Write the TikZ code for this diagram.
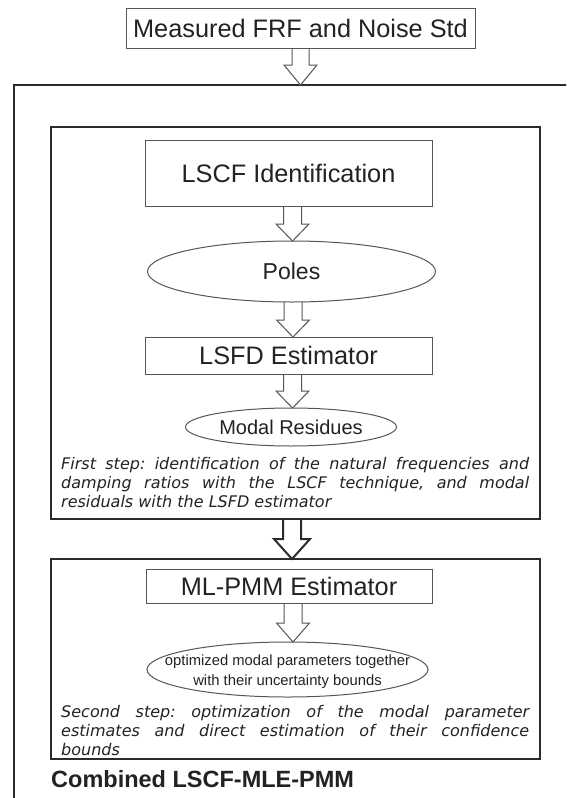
\documentclass[tikz,border=0pt]{standalone}
\usepackage{fontspec}
\setmainfont{Liberation Sans}
\newfontfamily\notefont{DejaVu Sans}
\usetikzlibrary{shapes.geometric,calc}

\definecolor{inkdark}{HTML}{2B2B2B}
\definecolor{inkmid}{HTML}{555555}
\definecolor{txt}{HTML}{222222}

% hollow block arrow: style, from, to, shaft half-width, head half-width, head length
\newcommand{\blockarrow}[6]{%
  \draw[#1] let \p1=#2, \p2=#3 in
    (\x1-#4,\y1) -- (\x1-#4,\y2+#6) -- (\x1-#5,\y2+#6) -- (\x1,\y2)
    -- (\x1+#5,\y2+#6) -- (\x1+#4,\y2+#6) -- (\x1+#4,\y1);}

\begin{document}
\frenchspacing
\begin{tikzpicture}[x=1pt,y=1pt,
  every node/.style={text=txt},
  plainbox/.style={draw=inkmid, line width=1pt, rectangle, inner sep=0pt, outer sep=0pt,
    font=\fontsize{25.3}{30}\selectfont},
  ovalbox/.style={draw=inkmid, line width=1pt, ellipse, inner sep=0pt, outer sep=0pt},
  stagebox/.style={draw=inkdark, line width=2.8pt, rectangle, inner sep=0pt, outer sep=0pt},
  framebox/.style={draw=inkdark, line width=2.2pt, rectangle, inner sep=0pt, outer sep=0pt},
  thinarrow/.style={draw=inkmid, line width=1pt, line join=miter},
  thickarrow/.style={draw=inkdark, line width=2pt, line join=miter},
  notetext/.style={anchor=north west, inner sep=0pt, text width=468pt, align=justify,
    font=\notefont\itshape\fontsize{16}{19}\selectfont},
]
\useasboundingbox (0,0) rectangle (566,-798);
\begin{scope}
\clip (0,0) rectangle (566,-798);

% input
\node[plainbox, minimum width=349pt, minimum height=40pt] (src) at (300.5,-28)
  {Measured FRF and Noise Std};

% overall frame (runs past the page edges)
\node[framebox, anchor=north west, minimum width=700pt, minimum height=800pt] (frame)
  at (14,-85) {};

% first stage
\node[stagebox, minimum width=489pt, minimum height=392pt] (stage1) at (295.5,-323) {};
\node[plainbox, minimum width=287pt, minimum height=66pt] (lscf) at (288.5,-173)
  {LSCF Identification};
\node[ovalbox, minimum width=288pt, minimum height=61pt,
  font=\fontsize{23}{27}\selectfont] (poles) at (291.5,-271.5) {Poles};
\node[plainbox, minimum width=287pt, minimum height=37pt] (lsfd) at (288.5,-355.5)
  {LSFD Estimator};
\node[ovalbox, minimum width=211pt, minimum height=38pt,
  font=\fontsize{20}{24}\selectfont] (resid) at (291,-427) {Modal Residues};
\node[notetext] (note1) at (61,-457)
  {\hyphenpenalty=10000\tolerance=10000\frenchspacing
   First step: identification of the natural frequencies and\linebreak
   damping ratios with the LSCF technique, and modal\linebreak
   residuals with the LSFD estimator};

% second stage
\node[stagebox, minimum width=489pt, minimum height=200pt] (stage2) at (295.5,-659) {};
\node[plainbox, minimum width=286pt, minimum height=34pt] (mlpmm) at (289,-586)
  {ML-PMM Estimator};
\node[ovalbox, minimum width=281pt, minimum height=55pt,
  label={[font=\fontsize{14.8}{20}\selectfont, align=center, inner sep=0pt, yshift=-2pt]center:optimized modal parameters together\\with their uncertainty bounds}]
  (optim) at (287.5,-669.5) {};
\node[notetext] (note2) at (61,-705)
  {\hyphenpenalty=10000\tolerance=10000\frenchspacing
   Second step: optimization of the modal parameter\linebreak
   estimates and direct estimation of their confidence\linebreak
   bounds};

\node[anchor=base west, inner sep=0pt, font=\bfseries\fontsize{23.5}{28}\selectfont]
  (title) at (51,-787) {Combined LSCF-MLE-PMM};

% flow arrows
\blockarrow{thinarrow}{(src.south)}{(src.south |- frame.north)}{8.5pt}{16.5pt}{20pt}
\blockarrow{thinarrow}{([xshift=4pt]lscf.south)}{(poles.north)}{9pt}{16.5pt}{17pt}
\blockarrow{thinarrow}{([xshift=1.5pt]poles.south)}{(lsfd.north)}{9pt}{16.5pt}{17pt}
\blockarrow{thinarrow}{([xshift=4pt]lsfd.south)}{(resid.north)}{9pt}{16.5pt}{17pt}
\blockarrow{thickarrow}{([xshift=-3.5pt]stage1.south)}{(stage2.north)}{9pt}{18pt}{20pt}
\blockarrow{thinarrow}{([xshift=4pt]mlpmm.south)}{(optim.north)}{9pt}{16.5pt}{19pt}
\end{scope}
\end{tikzpicture}
\end{document}
